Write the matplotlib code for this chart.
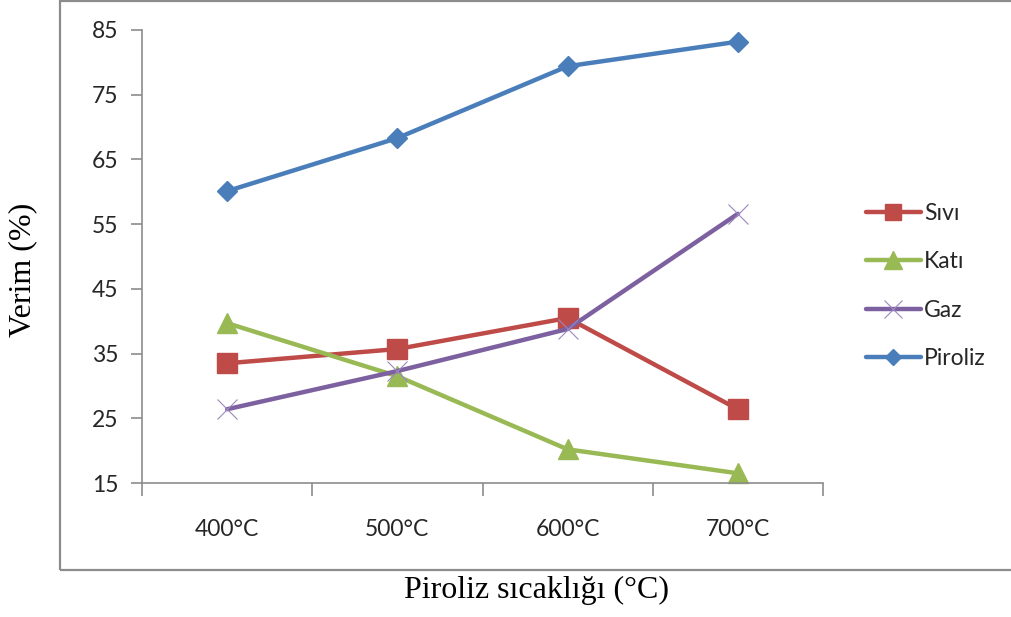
#!/usr/bin/env python3
"""Piroliz sıcaklığına göre ürün verimleri (çizgi grafiği)."""

import matplotlib
matplotlib.use("Agg")
import matplotlib.pyplot as plt
from matplotlib.patches import Rectangle

sicaklik = ["400°C", "500°C", "600°C", "700°C"]
sivi = [33.5, 35.7, 40.5, 26.4]
kati = [39.7, 31.5, 20.2, 16.5]
gaz = [26.4, 32.3, 38.8, 56.6]
piroliz = [60.1, 68.3, 79.4, 83.2]

W, H = 1011, 617
fig = plt.figure(figsize=(W / 100, H / 100), dpi=100)

# dış çerçeve
fig.patches.append(Rectangle((60 / W, (H - 570) / H), 1.0, 570 / H - 0.001,
                             transform=fig.transFigure, fill=False,
                             edgecolor="#8c8c8c", linewidth=1.6))

ax = fig.add_axes([142 / W, (H - 483) / H, (823 - 142) / W, (483 - 30) / H])

x = range(1, len(sicaklik) + 1)
seriler = [
    ("Sıvı", sivi, "#BE4B48", "s", 14, dict()),
    ("Katı", kati, "#98B954", "^", 15, dict()),
    ("Gaz", gaz, "#7D60A0", "x", 15, dict(markeredgewidth=0.8, markeredgecolor="#9c88c0")),
    ("Piroliz", piroliz, "#4A7EBB", "D", 10, dict()),
]
for ad, y, renk, mk, ms, ek in seriler:
    ax.plot(x, y, color=renk, linewidth=3.2, marker=mk, markersize=ms,
            solid_capstyle="round", label=ad, clip_on=False, **ek)

ax.set_xlim(0.5, 4.5)
ax.set_ylim(15, 85)
ax.set_yticks(range(15, 86, 10))
ax.set_xticks(list(x))
ax.set_xticklabels(sicaklik)
ax.set_xticks([0.5, 1.5, 2.5, 3.5, 4.5], minor=True)

for s in ("top", "right"):
    ax.spines[s].set_visible(False)
for s in ("left", "bottom"):
    ax.spines[s].set_color("#8c8c8c")
    ax.spines[s].set_linewidth(1.2)

ax.tick_params(axis="y", length=8, width=1.2, color="#8c8c8c", pad=9)
ax.tick_params(axis="x", which="major", length=0, pad=26)
ax.tick_params(axis="x", which="minor", length=9, width=1.2, color="#8c8c8c")
for lbl in ax.get_xticklabels() + ax.get_yticklabels():
    lbl.set_fontfamily("Lato")
    lbl.set_fontsize(16.5)
    lbl.set_color("#262626")

fig.text(23 / W, 1 - 270 / H, "Verim (%)", rotation=90, ha="center", va="center",
         family="Liberation Serif", fontsize=23)
fig.text(536 / W, 1 - 590 / H, "Piroliz sıcaklığı (°C)", ha="center", va="center",
         family="Liberation Serif", fontsize=23)

leg = fig.legend(loc="center left", bbox_to_anchor=(845 / W, 1 - 286 / H),
                 frameon=False, prop=dict(family="Lato", size=16.5),
                 handlelength=2.4, handletextpad=0.15, labelspacing=1.2,
                 markerscale=0.85)
for t in leg.get_texts():
    t.set_color("#262626")

fig.savefig("out.png", dpi=100)
